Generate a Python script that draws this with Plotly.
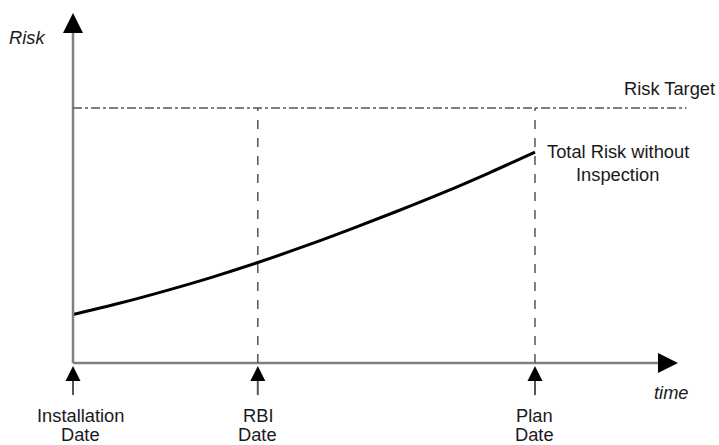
import plotly.graph_objects as go

# Milestones on the time axis (years since installation)
milestone_names = ["Installation<br>Date", "RBI<br>Date", "Plan<br>Date"]
milestone_times = [0, 10, 25]

# Total risk without inspection, sampled over time
curve_times = [0, 2.5, 5, 7.5, 10, 12.5, 15, 17.5, 20, 22.5, 25]
curve_risk = [0.19, 0.234, 0.283, 0.336, 0.394, 0.457, 0.524, 0.594, 0.667, 0.745, 0.827]
curve_name = "Total Risk without<br>Inspection"

# Acceptable risk level
risk_target = 1.0

# Extents of the drawn axes
x_axis_end = 32.74
y_axis_top = 1.373
target_line_end = 33.2
pointer_top, pointer_bottom = -0.012, -0.126

FONT = "Liberation Sans, Arial, sans-serif"
FS = 18.3
TEXT = "#1a1a1a"
AXIS_GREY = "#808080"
GUIDE_GREY = "#555555"


def label(x, y, text, xanchor="center"):
    return dict(x=x, y=y, xref="x", yref="y", text=text, showarrow=False,
                xanchor=xanchor, yanchor="middle", borderpad=0,
                font=dict(family=FONT, size=FS, color=TEXT))


fig = go.Figure()

fig.add_trace(go.Scatter(
    x=curve_times, y=curve_risk, mode="lines",
    line=dict(color="#000000", width=3, shape="spline", smoothing=1.0),
    hoverinfo="skip", showlegend=False,
))

shapes = []
# Axis shafts
shapes.append(dict(type="line", xref="x", yref="y", x0=0, x1=x_axis_end - 0.5,
                   y0=0, y1=0, line=dict(color=AXIS_GREY, width=2.5)))
shapes.append(dict(type="line", xref="x", yref="y", x0=0, x1=0,
                   y0=0, y1=y_axis_top - 0.04, line=dict(color=AXIS_GREY, width=2.5)))
# Risk target (dash-dot)
shapes.append(dict(type="line", xref="x", yref="y",
                   x0=0, x1=target_line_end, y0=risk_target, y1=risk_target,
                   line=dict(color=GUIDE_GREY, width=1.5, dash="dashdot")))
# Vertical guides at RBI and plan dates
for t in milestone_times[1:]:
    shapes.append(dict(type="line", xref="x", yref="y",
                       x0=t, x1=t, y0=0, y1=risk_target,
                       line=dict(color=GUIDE_GREY, width=1.5, dash="dash")))
# Pointer shafts under the time axis
for t in milestone_times:
    shapes.append(dict(type="line", xref="x", yref="y", x0=t, x1=t,
                       y0=pointer_bottom, y1=pointer_top - 0.03,
                       line=dict(color="#555555", width=2)))

annotations = []
# Black arrowheads on short shafts
annotations.append(dict(x=x_axis_end, y=0, ax=-16, ay=0, xref="x", yref="y",
                        showarrow=True, arrowhead=2, arrowsize=1.6, arrowwidth=2.5,
                        arrowcolor="#000000", text=""))
annotations.append(dict(x=0, y=y_axis_top, ax=0, ay=16, xref="x", yref="y",
                        showarrow=True, arrowhead=2, arrowsize=1.6, arrowwidth=2.5,
                        arrowcolor="#000000", text=""))
for t, name in zip(milestone_times, milestone_names):
    annotations.append(dict(x=t, y=pointer_top, ax=0, ay=14, xref="x", yref="y",
                            showarrow=True, arrowhead=2, arrowsize=1.5, arrowwidth=2,
                            arrowcolor="#000000", text=""))
    first, second = name.split("<br>")
    cx = t + (0.38 if t == 0 else 0)
    annotations.append(label(cx, -0.204, first))
    annotations.append(label(cx, -0.281, second))

line1, line2 = curve_name.split("<br>")
annotations += [
    label(-2.49, 1.278, "<i>Risk</i>"),
    label(32.4, -0.114, "<i>time</i>"),
    label(32.3, 1.078, "Risk Target"),
    label(29.47, 0.831, line1),
    label(29.45, 0.741, line2),
]

fig.update_layout(
    width=719, height=445,
    margin=dict(l=0, r=0, t=0, b=0),
    paper_bgcolor="white", plot_bgcolor="white",
    xaxis=dict(range=[-3.950, 34.957], visible=False, fixedrange=True),
    yaxis=dict(range=[-0.3216, 1.4235], visible=False, fixedrange=True),
    shapes=shapes, annotations=annotations, showlegend=False,
)

fig.write_html("out.html")
